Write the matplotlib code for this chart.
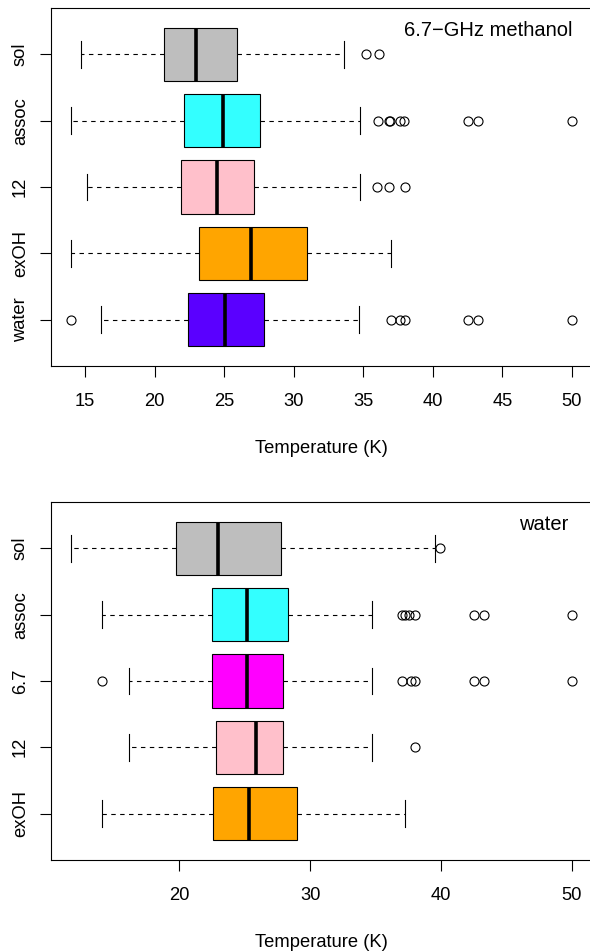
import matplotlib
matplotlib.use("Agg")
import matplotlib.pyplot as plt

plt.rcParams['font.family'] = ['Liberation Sans', 'DejaVu Sans']

# ---------------- data: top panel (6.7-GHz methanol) ----------------
# order: bottom -> top
top_labels = ['water', 'exOH', '12', 'assoc', 'sol']
top_colors = ['#5A00FF', '#FFA500', '#FFC0CB', '#33FFFF', '#BEBEBE']
top_whislo = [16.13, 14.0, 15.12, 14.0, 14.7]
top_q1 = [22.43, 23.22, 21.88, 22.14, 20.66]
top_med = [25.09, 26.96, 24.51, 24.95, 22.96]
top_q3 = [27.88, 30.95, 27.13, 27.6, 25.94]
top_whishi = [34.69, 36.99, 34.78, 34.78, 33.63]
top_fliers = [
    [14.0, 36.99, 37.66, 37.97, 42.53, 43.25, 50.0],
    [],
    [36.0, 36.82, 37.97],
    [36.03, 36.87, 36.94, 37.66, 37.95, 42.53, 43.25, 50.0],
    [35.2, 36.1],
]
top_xticks = [15, 20, 25, 30, 35, 40, 45, 50]
top_title = '6.7\u2212GHz methanol'

# ---------------- data: bottom panel (water) ----------------
bot_labels = ['exOH', '12', '6.7', 'assoc', 'sol']
bot_colors = ['#FFA500', '#FFC0CB', '#FF00FF', '#33FFFF', '#BEBEBE']
bot_whislo = [14.09, 16.17, 16.17, 14.09, 11.74]
bot_q1 = [22.58, 22.78, 22.5, 22.5, 19.79]
bot_med = [25.3, 25.84, 25.18, 25.18, 23.0]
bot_q3 = [29.0, 27.9, 27.93, 28.29, 27.78]
bot_whishi = [37.24, 34.74, 34.74, 34.74, 39.51]
bot_fliers = [
    [],
    [38.03],
    [14.09, 37.04, 37.67, 38.0, 42.52, 43.29, 50.0],
    [36.99, 37.24, 37.55, 37.98, 42.52, 43.29, 50.0],
    [39.89],
]
bot_xticks = [20, 30, 40, 50]
bot_title = 'water'

xlabel = 'Temperature (K)'

W, H = 590, 951
FS = 13.2
RIGHT = 592


def rect(left, top, right, bottom):
    return [left / W, 1 - bottom / H, (right - left) / W, (bottom - top) / H]


def draw(ax, labels, colors, lo, q1, med, q3, hi, fliers, xticks, title, title_px):
    stats = []
    for l, a, b, c, d, e, f in zip(labels, lo, q1, med, q3, hi, fliers):
        stats.append(dict(label=l, whislo=a, q1=b, med=c, q3=d, whishi=e, fliers=f))
    pos = list(range(1, len(labels) + 1))
    kw = dict(positions=pos, widths=0.8, patch_artist=True, showfliers=True,
              boxprops=dict(edgecolor='black', linewidth=0.8),
              medianprops=dict(color='black', linewidth=2.6, solid_capstyle='butt'),
              whiskerprops=dict(color='black', linewidth=0.8, linestyle=(0, (4, 4))),
              capprops=dict(color='black', linewidth=0.8),
              flierprops=dict(marker='o', markerfacecolor='none', markeredgecolor='black',
                              markersize=6.5, markeredgewidth=0.8, linestyle='none'))
    try:
        bp = ax.bxp(stats, orientation='horizontal', **kw)
    except TypeError:
        bp = ax.bxp(stats, vert=False, **kw)
    for patch, c in zip(bp['boxes'], colors):
        patch.set_facecolor(c)
    allv = lo + hi + [v for f in fliers for v in f]
    mn, mx = min(allv), max(allv)
    ext = 0.04 * (mx - mn)
    ax.set_xlim(mn - ext, mx + ext)
    ax.set_ylim(0.3, len(labels) + 0.7)
    ax.set_xticks(xticks)
    ax.set_xticklabels([str(t) for t in xticks])
    ax.set_yticks(pos)
    ax.set_yticklabels(labels, rotation=90, va='center')
    ax.tick_params(axis='both', length=7.9, width=0.8, labelsize=FS, direction='out',
                   color='black')
    ax.tick_params(axis='x', pad=11.5)
    ax.tick_params(axis='y', pad=8)
    for s in ax.spines.values():
        s.set_linewidth(0.8)
        s.set_color('black')
    ax.spines['right'].set_visible(False)
    ax.text((title_px - 51) / (RIGHT - 51), 1 - 28 / 358, title, transform=ax.transAxes,
            ha='right', va='baseline', fontsize=FS * 1.1)


fig = plt.figure(figsize=(W / 100, H / 100), dpi=100)
ax1 = fig.add_axes(rect(51, 8, RIGHT, 366))
ax2 = fig.add_axes(rect(51, 502, RIGHT, 860))

draw(ax1, top_labels, top_colors, top_whislo, top_q1, top_med, top_q3, top_whishi,
     top_fliers, top_xticks, top_title, 572.7)
draw(ax2, bot_labels, bot_colors, bot_whislo, bot_q1, bot_med, bot_q3, bot_whishi,
     bot_fliers, bot_xticks, bot_title, 568.3)

fig.text(321 / W, 1 - 453 / H, xlabel, ha='center', va='baseline', fontsize=FS)
fig.text(321 / W, 1 - 947 / H, xlabel, ha='center', va='baseline', fontsize=FS)

fig.savefig('out.png', dpi=100)
